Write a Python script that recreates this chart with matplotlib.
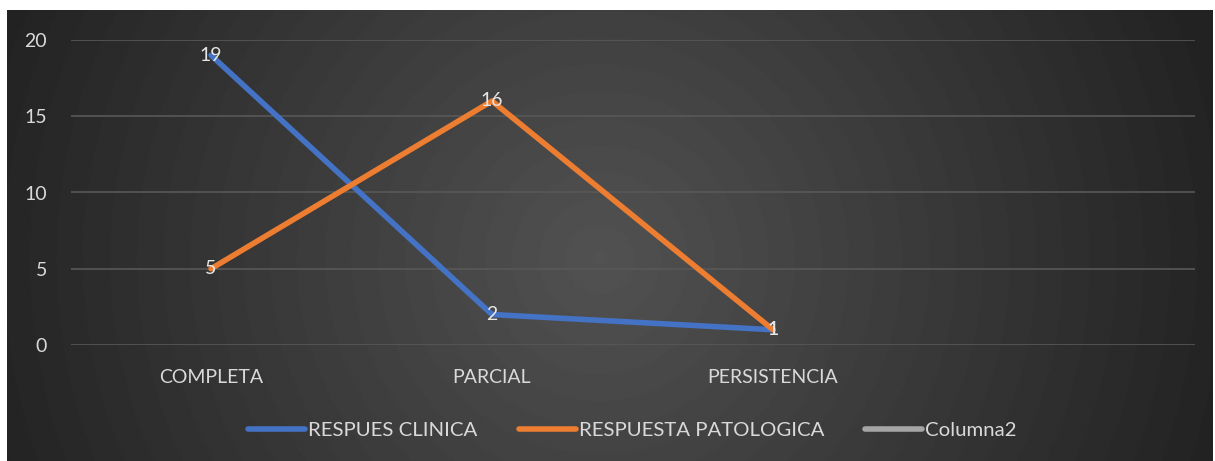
import numpy as np
import matplotlib.pyplot as plt

categories = ['COMPLETA', 'PARCIAL', 'PERSISTENCIA', '']
clinica = [19, 2, 1]
patologica = [5, 16, 1]
series_names = ['RESPUES CLINICA', 'RESPUESTA PATOLOGICA', 'Columna2']
yticks = [0, 5, 10, 15, 20]

W, H = 1215, 461
fig = plt.figure(figsize=(W / 100, H / 100), dpi=100)
fig.patch.set_facecolor('white')
plt.rcParams['font.family'] = ['Lato', 'DejaVu Sans']
fs = 14

# dark radial gradient panel behind the chart
x0, x1, y0, y1 = 7, 1213, 10, 461
bg = fig.add_axes([x0 / W, 1 - y1 / H, (x1 - x0) / W, (y1 - y0) / H])
gx, gy = np.meshgrid(np.linspace(x0, x1, 600), np.linspace(y0, y1, 230))
r = np.hypot((gx - 600) / 650, (gy - 260) / 650)
r = np.clip(r, 0, 1)
shade = 0.32 - 0.19 * r
shade = np.round(shade * 255 / 2) * 2 / 255
bg.imshow(np.dstack([shade] * 3), aspect='auto', interpolation='bilinear')
bg.axis('off')

ax = fig.add_axes([70.5 / W, 1 - 345 / H, (1194.5 - 70.5) / W, (345 - 40) / H])
ax.patch.set_alpha(0)
ax.set_xlim(-0.5, 3.5)
ax.set_ylim(0, 20)

for v in yticks:
    ax.axhline(v, color='#585858', lw=1.2, zorder=1)

x = np.arange(len(clinica))
ax.plot(x, clinica, color='#4472C4', lw=4, solid_capstyle='round', zorder=3, label=series_names[0])
ax.plot(x, patologica, color='#ED7D31', lw=4, solid_capstyle='round', zorder=3, label=series_names[1])
ax.plot([], [], color='#A5A5A5', lw=4, solid_capstyle='round', label=series_names[2])

for xs, ys in [(x, clinica), (x, patologica)]:
    for xi, yi in zip(xs, ys):
        ax.text(xi, yi, str(yi), color='#e6e6e6', fontsize=fs, ha='center', va='center', zorder=4)

ax.set_xticks(range(len(categories)))
ax.set_xticklabels(categories)
ax.set_yticks(yticks)
ax.tick_params(length=0, colors='#d9d9d9', labelsize=fs)
ax.tick_params(axis='x', pad=17)
ax.tick_params(axis='y', pad=17)
for s in ax.spines.values():
    s.set_visible(False)

leg = ax.legend(loc='center', bbox_to_anchor=(0.5, (345 - 430) / 305), ncol=3, frameon=False,
                fontsize=14.7, labelcolor='#d9d9d9', handlelength=2.8, handletextpad=0.15,
                columnspacing=2.0)

fig.savefig('out.png', dpi=100)
